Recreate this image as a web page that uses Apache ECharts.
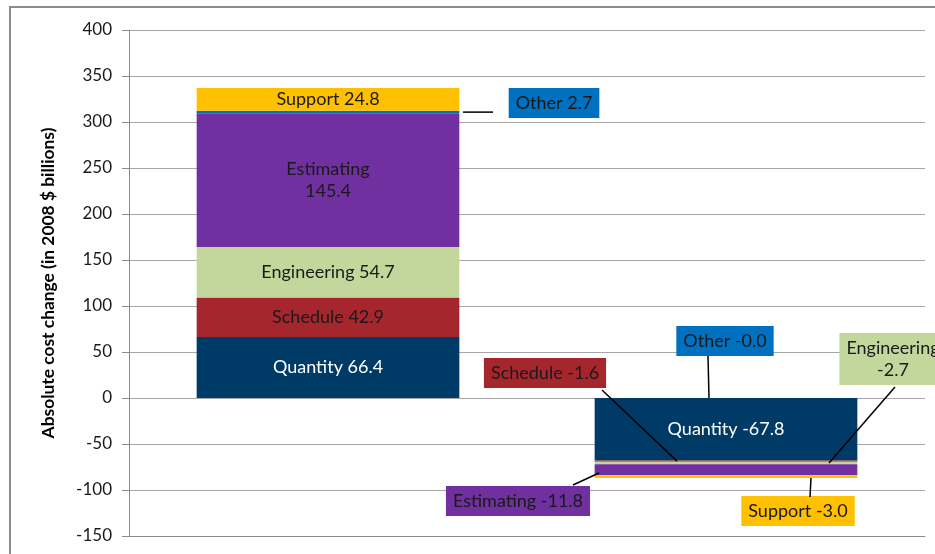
<!DOCTYPE html>
<html>
<head>
<meta charset="utf-8">
<script src="https://cdn.jsdelivr.net/npm/echarts@6/dist/echarts.min.js"></script>
<style>
  html, body { margin: 0; padding: 0; background: #fff; }
  #chart { width: 935px; height: 554px; }
</style>
</head>
<body>
<div id="chart"></div>
<script>
var categories = ['Cost growth', 'Cost reduction'];
var seriesNames = ['Quantity', 'Schedule', 'Engineering', 'Estimating', 'Other', 'Support'];
var quantity = [66.4, -67.8];
var schedule = [42.9, -1.6];
var engineering = [54.7, -2.7];
var estimating = [145.4, -11.8];
var other = [2.7, -0.02];
var support = [24.8, -3.0];
var yMin = -150, yMax = 400, yStep = 50;

var values = [quantity, schedule, engineering, estimating, other, support];
var colors = ['#003A66', '#A6262E', '#C3D69B', '#7030A0', '#0070C0', '#FFC000'];
var font = 'Lato';

// labels moved out of the bar: [series][category] = centre in px, null keeps it inside
var labelSpots = [
    [null, null],
    [null, [545, 373]],
    [null, [893, 359]],
    [null, [518, 501]],
    [[554, 103], [725, 341]],
    [null, [798, 511]]
];
// labels on two lines
var wrapLabel = [
    [false, false],
    [false, false],
    [false, true],
    [true, false],
    [false, false],
    [false, false]
];
// leader lines: series, category, place along segment (0 start .. 1 end), dx from bar centre, label end
var leaders = [
    {s: 4, c: 0, f: 0.5, dx: 135, end: [493, null]},
    {s: 1, c: 1, f: 0.5, dx: -49, end: [602, 390]},
    {s: 0, c: 1, f: 0, dx: -17, end: [708, 356]},
    {s: 2, c: 1, f: 0.5, dx: 103, end: [895, 387]},
    {s: 3, c: 1, f: 0.8, dx: -127, end: [573, 485]},
    {s: 5, c: 1, f: 1, dx: 85, end: [810, 497]}
];

function stackAt(s, c, f) {
    var base = 0;
    for (var i = 0; i < s; i++) {
        base += values[i][c];
    }
    return base + f * values[s][c];
}

var chart = echarts.init(document.getElementById('chart'));

var series = seriesNames.map(function(name, s) {
    return {
        name: name,
        type: 'bar',
        stack: 'total',
        barWidth: '66%',
        itemStyle: { color: colors[s] },
        data: values[s].map(function(v, c) {
            var moved = labelSpots[s][c] != null;
            return {
                value: v,
                label: {
                    show: true,
                    position: 'inside',
                    formatter: name + (wrapLabel[s][c] ? '\n' : ' ') + v.toFixed(1),
                    color: s === 0 ? '#ffffff' : '#1a1a1a',
                    backgroundColor: moved ? colors[s] : 'transparent',
                    padding: moved ? [4, 7] : 0,
                    fontFamily: font,
                    fontSize: 18,
                    lineHeight: 22
                }
            };
        }),
        labelLayout: function(params) {
            var spot = labelSpots[s][params.dataIndex];
            if (!spot) return {};
            return { x: spot[0], y: spot[1], align: 'center', verticalAlign: 'middle' };
        }
    };
});

var option = {
    animation: false,
    backgroundColor: '#ffffff',
    grid: { left: 129, right: 10, top: 30, bottom: 18 },
    xAxis: {
        type: 'category',
        data: categories,
        axisLine: { onZero: false, lineStyle: { color: '#8c8c8c' } },
        axisTick: { show: false },
        axisLabel: { show: false }
    },
    yAxis: {
        type: 'value',
        min: yMin,
        max: yMax,
        interval: yStep,
        name: 'Absolute cost change (in 2008 $ billions)',
        nameLocation: 'middle',
        nameGap: 72,
        nameTextStyle: { fontFamily: font, fontSize: 17.4, fontWeight: 'bold', color: '#000' },
        axisLine: { show: true, lineStyle: { color: '#8c8c8c' } },
        axisTick: { show: true, length: 7, lineStyle: { color: '#8c8c8c' } },
        axisLabel: { fontFamily: font, fontSize: 17, color: '#1a1a1a', margin: 17 },
        splitLine: { lineStyle: { color: '#a6a6a6' } }
    },
    series: series
};

chart.setOption(option);

// frame and leader lines, anchored on the stacked values
var graphics = [{
    type: 'rect',
    shape: { x: 10, y: 7, width: 940, height: 560 },
    style: { fill: null, stroke: '#8c8c8c', lineWidth: 2 },
    silent: true
}];
leaders.forEach(function(l) {
    var p = chart.convertToPixel({ xAxisIndex: 0, yAxisIndex: 0 }, [categories[l.c], stackAt(l.s, l.c, l.f)]);
    var x1 = p[0] + l.dx, y1 = p[1];
    var x2 = l.end[0], y2 = l.end[1] == null ? y1 : l.end[1];
    graphics.push({
        type: 'line',
        z: 50,
        shape: { x1: x1, y1: y1, x2: x2, y2: y2 },
        style: { stroke: '#000', lineWidth: 1.5 },
        silent: true
    });
});
chart.setOption({ graphic: graphics });
</script>
</body>
</html>
